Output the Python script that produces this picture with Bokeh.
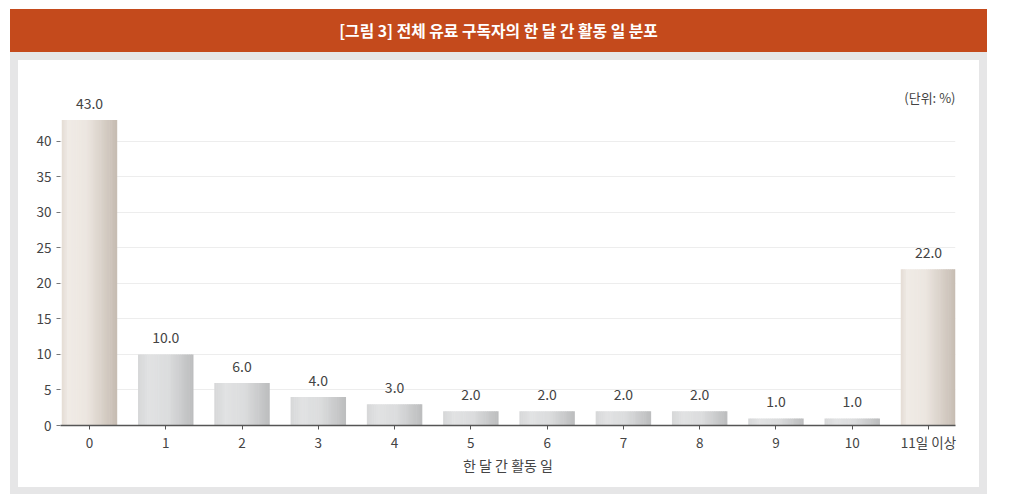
from bokeh.plotting import figure
from bokeh.models import Div, FixedTicker, Label, ColumnDataSource, Range1d
from bokeh.layouts import column, row
from bokeh.embed import file_html
from bokeh.resources import INLINE
from bokeh.core.properties import value

# ---- data ----
categories = ["0", "1", "2", "3", "4", "5", "6", "7", "8", "9", "10", "11일 이상"]
values = [43.0, 10.0, 6.0, 4.0, 3.0, 2.0, 2.0, 2.0, 2.0, 1.0, 1.0, 22.0]
highlight = [True, False, False, False, False, False, False, False, False, False, False, True]
y_ticks = [0, 5, 10, 15, 20, 25, 30, 35, 40]

title_text = "[그림 3] 전체 유료 구독자의 한 달 간 활동 일 분포"
unit_text = "(단위: %)"
x_label = "한 달 간 활동 일"

FONT = "Noto Sans CJK KR"
TXT = "#444444"
GRAY = "#e6e6e7"

# gradient palettes (left -> right)
beige_stops = [(0.0, (228, 220, 212)), (0.12, (240, 235, 230)), (0.45, (236, 230, 224)), (1.0, (198, 188, 178))]
gray_stops = [(0.0, (214, 215, 216)), (0.2, (225, 226, 227)), (0.55, (219, 220, 221)), (1.0, (188, 189, 190))]


def interp(stops, t):
    for (t0, c0), (t1, c1) in zip(stops[:-1], stops[1:]):
        if t0 <= t <= t1:
            f = (t - t0) / (t1 - t0) if t1 > t0 else 0
            c = [round(a + (b - a) * f) for a, b in zip(c0, c1)]
            return "#%02x%02x%02x" % tuple(c)
    c = stops[-1][1]
    return "#%02x%02x%02x" % c


xs = list(range(len(categories)))
bar_w = 0.72
N = 30

sx, stop, sw, sc = [], [], [], []
for x, v, h in zip(xs, values, highlight):
    stops = beige_stops if h else gray_stops
    for k in range(N):
        t = (k + 0.5) / N
        sx.append(x - bar_w / 2 + (k + 0.5) * bar_w / N)
        stop.append(v)
        sw.append(bar_w / N * 1.3)
        sc.append(interp(stops, t))

strips = ColumnDataSource(dict(x=sx, top=stop, w=sw, c=sc))
labels_src = ColumnDataSource(dict(x=xs, y=values, t=["%.1f" % v for v in values]))

p = figure(width=961, height=427, output_backend="svg", toolbar_location=None,
           x_range=Range1d(-0.38, len(categories) - 1 + 0.354), y_range=Range1d(0, 48),
           min_border_left=42, min_border_right=24, min_border_top=24, min_border_bottom=62,
           margin=0)
p.background_fill_color = "white"
p.border_fill_color = "white"
p.outline_line_color = None

p.vbar(x="x", top="top", width="w", bottom=0, source=strips, fill_color="c", line_color=None)

p.text(x="x", y="y", text="t", source=labels_src, text_align="center", text_baseline="bottom",
       y_offset=-11, text_font=value(FONT), text_font_size="14px", text_color=TXT)

p.add_layout(Label(x=len(categories) - 1 + 0.354, y=46.2, text=unit_text, text_align="right",
                   text_baseline="middle", text_font=FONT, text_font_size="13px", text_color=TXT))

# axes
p.xaxis.ticker = FixedTicker(ticks=xs)
p.xaxis.major_label_overrides = {i: c for i, c in enumerate(categories)}
p.xaxis.axis_line_color = "#555555"
p.xaxis.axis_line_width = 1.5
p.xaxis.major_tick_line_color = "#555555"
p.xaxis.major_tick_in = 0
p.xaxis.major_tick_out = 4
p.xaxis.minor_tick_line_color = None
p.xaxis.major_label_text_font = FONT
p.xaxis.major_label_text_font_size = "13.5px"
p.xaxis.major_label_text_color = TXT
p.xaxis.major_label_standoff = 2
p.xaxis.axis_label = x_label
p.xaxis.axis_label_text_font = FONT
p.xaxis.axis_label_text_font_size = "14px"
p.xaxis.axis_label_text_font_style = "normal"
p.xaxis.axis_label_text_color = TXT
p.xaxis.axis_label_standoff = 0

p.yaxis.ticker = FixedTicker(ticks=y_ticks)
p.yaxis.axis_line_color = None
p.yaxis.major_tick_line_color = "#777777"
p.yaxis.major_tick_in = 0
p.yaxis.major_tick_out = 4
p.yaxis.minor_tick_line_color = None
p.yaxis.major_label_text_font = FONT
p.yaxis.major_label_text_font_size = "13.5px"
p.yaxis.major_label_text_color = TXT
p.yaxis.major_label_standoff = 5

p.xgrid.grid_line_color = None
p.ygrid.ticker = FixedTicker(ticks=y_ticks[1:])
p.ygrid.grid_line_color = "#ededed"
p.ygrid.grid_line_width = 1

header = Div(text=title_text, width=977, height=43, margin=0,
             styles={"background-color": "#c44a1c", "color": "white", "font-family": "'Noto Sans CJK KR'",
                     "font-weight": "bold", "font-size": "15.8px", "text-align": "center",
                     "line-height": "43px"})


def block(w, h, color):
    return Div(text="", width=w, height=h, margin=0, styles={"background-color": color})


panel = column(block(977, 9, "white"), header, block(977, 8, GRAY),
               row(block(8, 427, GRAY), p, block(8, 427, GRAY), spacing=0, margin=0),
               block(977, 7, GRAY), spacing=0, margin=0)
root = row(block(10, 1, "white"), panel, spacing=0, margin=0)

open("out.html", "w").write(file_html(root, INLINE))
